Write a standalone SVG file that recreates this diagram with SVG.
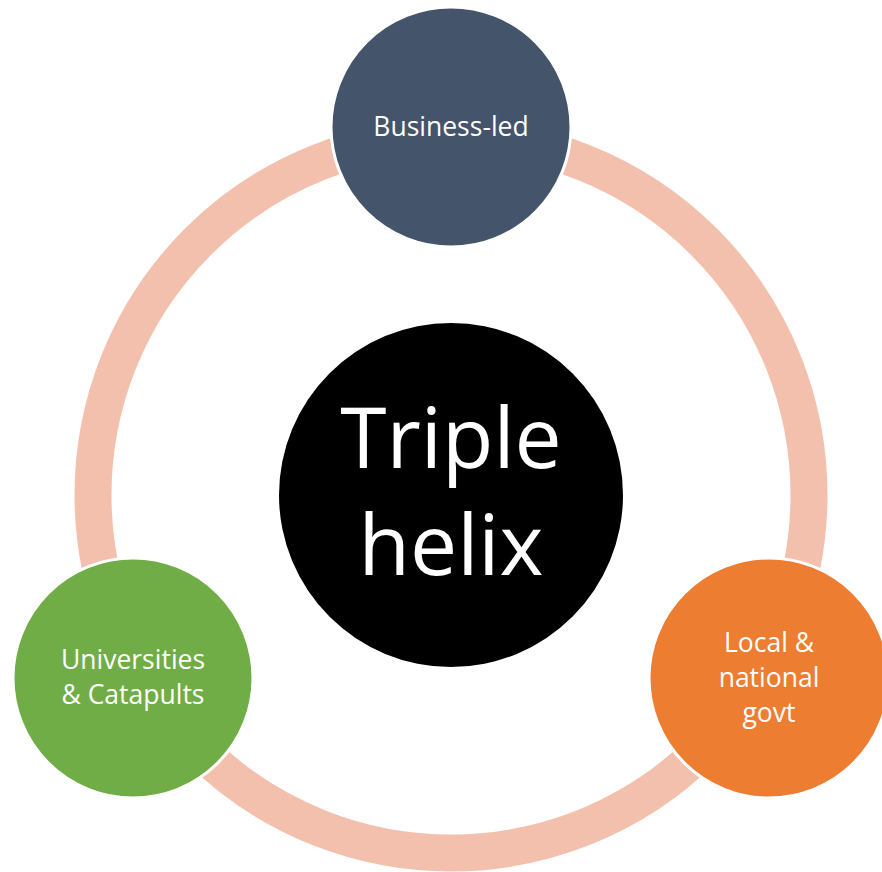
<svg xmlns="http://www.w3.org/2000/svg" width="882" height="872" viewBox="0 0 882 872">
<style>
.node{stroke:#FFFFFF;stroke-width:3}
.lbl{font-family:"Open Sans","Liberation Sans",sans-serif;fill:#FFFFFF;text-anchor:middle}
.small{font-size:26.5px}
.big{font-size:84px}
</style>
<rect width="882" height="872" fill="#FFFFFF"/>
<g id="connectors">
<circle cx="451" cy="495" r="358" fill="none" stroke="#F4C0AE" stroke-width="37"/>
</g>
<g id="center">
<circle cx="451" cy="495" r="172" fill="#000000"/>
<text class="lbl big" x="451" y="468">Triple</text>
<text class="lbl big" x="451" y="575">helix</text>
</g>
<g id="business">
<circle class="node" cx="451" cy="127" r="120" fill="#44546A"/>
<text class="lbl small" x="451" y="136">Business-led</text>
</g>
<g id="universities">
<circle class="node" cx="133" cy="678" r="120" fill="#70AD47"/>
<text class="lbl small" x="133" y="669">Universities</text>
<text class="lbl small" x="133" y="704">&amp; Catapults</text>
</g>
<g id="govt">
<circle class="node" cx="769" cy="678" r="120" fill="#ED7D31"/>
<text class="lbl small" x="769" y="652">Local &amp;</text>
<text class="lbl small" x="769" y="687">national</text>
<text class="lbl small" x="769" y="722">govt</text>
</g>
</svg>
